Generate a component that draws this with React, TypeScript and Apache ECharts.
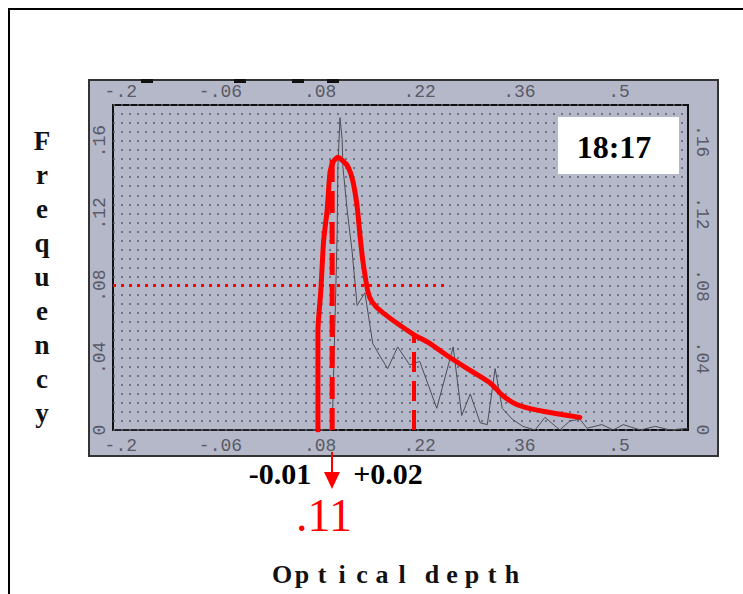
import React, { useEffect, useRef } from "react";
import * as echarts from "echarts";

// ---- data ----
const xTickValues = [-0.2, -0.06, 0.08, 0.22, 0.36, 0.5];
const yTickValues = [0, 0.04, 0.08, 0.12, 0.16];

// observed frequency (thin grey line)
const freqX = [-0.211, 0.052, 0.087, 0.097, 0.098, 0.101, 0.104, 0.105, 0.108, 0.111, 0.112, 0.118, 0.125, 0.132, 0.143, 0.154, 0.164, 0.175, 0.189, 0.206, 0.22, 0.244, 0.267, 0.279, 0.291, 0.305, 0.315, 0.326, 0.336, 0.35, 0.365, 0.382, 0.396, 0.417, 0.431, 0.445, 0.455, 0.476, 0.492, 0.506, 0.53, 0.551, 0.572, 0.597];
const freqY = [0, 0, 0, 0, 0.016, 0.061, 0.109, 0.146, 0.173, 0.161, 0.146, 0.122, 0.099, 0.069, 0.076, 0.048, 0.041, 0.034, 0.046, 0.036, 0.038, 0.012, 0.046, 0.008, 0.02, 0.004, 0.003, 0.034, 0.012, 0.006, 0.002, 0, 0.007, 0, 0.005, 0.006, 0.001, 0.003, 0, 0.003, 0, 0.002, 0, 0.001];

// hand-drawn fit (thick red line)
const fitX = [0.077, 0.077, 0.081, 0.085, 0.09, 0.094, 0.099, 0.105, 0.112, 0.119, 0.126, 0.132, 0.136, 0.14, 0.147, 0.153, 0.168, 0.211, 0.234, 0.263, 0.291, 0.319, 0.337, 0.357, 0.385, 0.413, 0.445];
const fitY = [0, 0.055, 0.077, 0.105, 0.122, 0.143, 0.149, 0.151, 0.149, 0.146, 0.138, 0.124, 0.108, 0.094, 0.077, 0.071, 0.065, 0.053, 0.048, 0.04, 0.033, 0.026, 0.019, 0.014, 0.011, 0.009, 0.007];

// reference markers
const medianX = 0.097;
const medianTop = 0.15;
const upperX = 0.212;
const upperTop = 0.053;
const halfMaxY = 0.08;
const halfMaxEndX = 0.258;

const frameLabel = "18:17";
const lowErr = "-0.01";
const highErr = "+0.02";
const medianLabel = ".11";
const xTitle = "Optical depth";
const yTitle = "Frequency";

const PANEL = "#b5b8c9";
const RED = "#ff0000";

const fmt = (v: number) =>
  String(+Number(v).toFixed(3)).replace(/^(-?)0\./, "$1.");

export default function App() {
  const ref = useRef<HTMLDivElement>(null);
  useEffect(() => {
    document.body.style.margin = "0";
    const chart = echarts.init(ref.current!, null, { renderer: "svg" });
    const xAxisCommon = {
      type: "value",
      min: -0.211,
      max: 0.597,
      axisLine: { show: false },
      axisTick: { show: false },
      splitLine: { show: false },
      axisLabel: { show: false },
    };
    const yAxisCommon = {
      type: "value",
      min: 0,
      max: 0.18,
      axisLine: { show: false },
      axisTick: { show: false },
    };

    const tickFont = "18px 'Liberation Mono'";
    const tickColor = "#5a5a66";
    const tickTexts: any[] = [];
    xTickValues.forEach((v) => {
      tickTexts.push(
        { kind: "x", v, y: 446 },
        { kind: "x", v, y: 92 }
      );
    });
    yTickValues.forEach((v) => {
      tickTexts.push({ kind: "yl", v }, { kind: "yr", v });
    });

    const titleLetters: any[] = [];
    let cx = 282;
    xTitle.split("").forEach((ch) => {
      if (ch === " ") {
        cx += 10;
        return;
      }
      titleLetters.push({
        type: "text",
        x: cx,
        y: 574,
        z: 100,
        style: {
          text: ch,
          font: "bold 26px 'Liberation Serif'",
          fill: "#111",
          align: "center",
          verticalAlign: "middle",
        },
      });
      cx += 20;
    });
    yTitle.split("").forEach((ch, i) => {
      titleLetters.push({
        type: "text",
        x: 42,
        y: 141 + i * 34,
        z: 100,
        style: {
          text: ch,
          font: "bold 27px 'Liberation Serif'",
          fill: "#111",
          align: "center",
          verticalAlign: "middle",
        },
      });
    });

    const baseOption: any = {
      animation: false,
      backgroundColor: "#ffffff",
      grid: {
        left: 113,
        top: 105,
        width: 575,
        height: 325,
        show: true,
        backgroundColor: PANEL,
        borderColor: "#111",
        borderWidth: 2,
      },
      xAxis: [
        { ...xAxisCommon, position: "bottom" },
        { ...xAxisCommon, position: "top" },
      ],
      yAxis: [
        {
          ...yAxisCommon,
          position: "left",
          interval: 0.005,
          z: 2,
          axisLabel: { show: false },
          splitLine: {
            show: true,
            lineStyle: { color: "#5c5e70", type: [2, 6], width: 1.5 },
          },
        },
      ],
      series: [
        {
          type: "line",
          name: "observed",
          data: freqX.map((x, i) => [x, freqY[i]]),
          showSymbol: false,
          lineStyle: { color: "#4d4d55", width: 1 },
          z: 3,
          clip: true,
        },
        {
          type: "line",
          name: "half max",
          data: [
            [-0.211, halfMaxY],
            [halfMaxEndX, halfMaxY],
          ],
          showSymbol: false,
          lineStyle: { color: RED, width: 3, type: [3, 5] },
          z: 4,
        },
        {
          type: "line",
          name: "median",
          data: [
            [medianX, 0],
            [medianX, medianTop],
          ],
          showSymbol: false,
          lineStyle: { color: RED, width: 5, type: [22, 9] },
          z: 4,
        },
        {
          type: "line",
          name: "upper",
          data: [
            [upperX, 0],
            [upperX, upperTop],
          ],
          showSymbol: false,
          lineStyle: { color: RED, width: 4, type: [20, 9] },
          z: 4,
        },
        {
          type: "line",
          name: "fit",
          data: fitX.map((x, i) => [x, fitY[i]]),
          showSymbol: false,
          smooth: 0.2,
          lineStyle: { color: RED, width: 5, cap: "round", join: "round" },
          z: 5,
        },
      ],
    };
    chart.setOption(baseOption);

    // tick labels placed through the chart's own scales
    const tickGraphics = tickTexts.map((t) => {
      if (t.kind === "x") {
        const px = chart.convertToPixel({ xAxisIndex: 0 }, t.v) as number;
        return {
          type: "text",
          x: px,
          y: t.y,
          z: 20,
          style: { text: fmt(t.v), font: tickFont, fill: tickColor, align: "center", verticalAlign: "middle" },
        };
      }
      const py = chart.convertToPixel({ yAxisIndex: 0 }, t.v) as number;
      const left = t.kind === "yl";
      return {
        type: "text",
        x: left ? 100 : 702,
        y: py,
        rotation: left ? Math.PI / 2 : -Math.PI / 2,
        z: 20,
        style: { text: fmt(t.v), font: tickFont, fill: tickColor, align: "center", verticalAlign: "middle" },
      };
    });

    chart.setOption({
      graphic: [
        {
          type: "polyline",
          z: 0,
          shape: { points: [[9, 594], [9, 9], [743, 9]] },
          style: { stroke: "#000", lineWidth: 2, fill: null },
        },
        {
          type: "rect",
          z: -10,
          shape: { x: 89, y: 80, width: 629, height: 376 },
          style: { fill: PANEL, stroke: "#333", lineWidth: 2 },
        },
        ...[147, 240, 298, 333].map((mx) => ({
          type: "rect",
          z: 10,
          shape: { x: mx - 6, y: 79, width: 12, height: 4 },
          style: { fill: "#111" },
        })),
        ...tickGraphics,
        {
          type: "rect",
          z: 50,
          shape: { x: 558, y: 117, width: 121, height: 57 },
          style: { fill: "#ffffff" },
        },
        {
          type: "text",
          z: 51,
          x: 614,
          y: 147,
          style: {
            text: frameLabel,
            font: "bold 32px 'Liberation Serif'",
            fill: "#000",
            align: "center",
            verticalAlign: "middle",
          },
        },
        {
          type: "text",
          z: 100,
          x: 280,
          y: 473,
          style: {
            text: lowErr,
            font: "bold 30px 'Liberation Serif'",
            fill: "#000",
            align: "center",
            verticalAlign: "middle",
          },
        },
        {
          type: "text",
          z: 100,
          x: 388,
          y: 473,
          style: {
            text: highErr,
            font: "bold 30px 'Liberation Serif'",
            fill: "#000",
            align: "center",
            verticalAlign: "middle",
          },
        },
        {
          type: "line",
          z: 100,
          shape: { x1: 332, y1: 452, x2: 332, y2: 474 },
          style: { stroke: RED, lineWidth: 2 },
        },
        {
          type: "polygon",
          z: 100,
          shape: { points: [[324, 472], [340, 472], [332, 489]] },
          style: { fill: RED },
        },
        {
          type: "text",
          z: 100,
          x: 324,
          y: 515,
          style: {
            text: medianLabel,
            font: "46px 'Liberation Serif'",
            fill: RED,
            align: "center",
            verticalAlign: "middle",
          },
        },
        ...titleLetters,
      ],
    });
    return () => chart.dispose();
  }, []);
  return (
    <div
      ref={ref}
      style={{ position: "fixed", left: 0, top: 0, width: 743, height: 594 }}
    />
  );
}
